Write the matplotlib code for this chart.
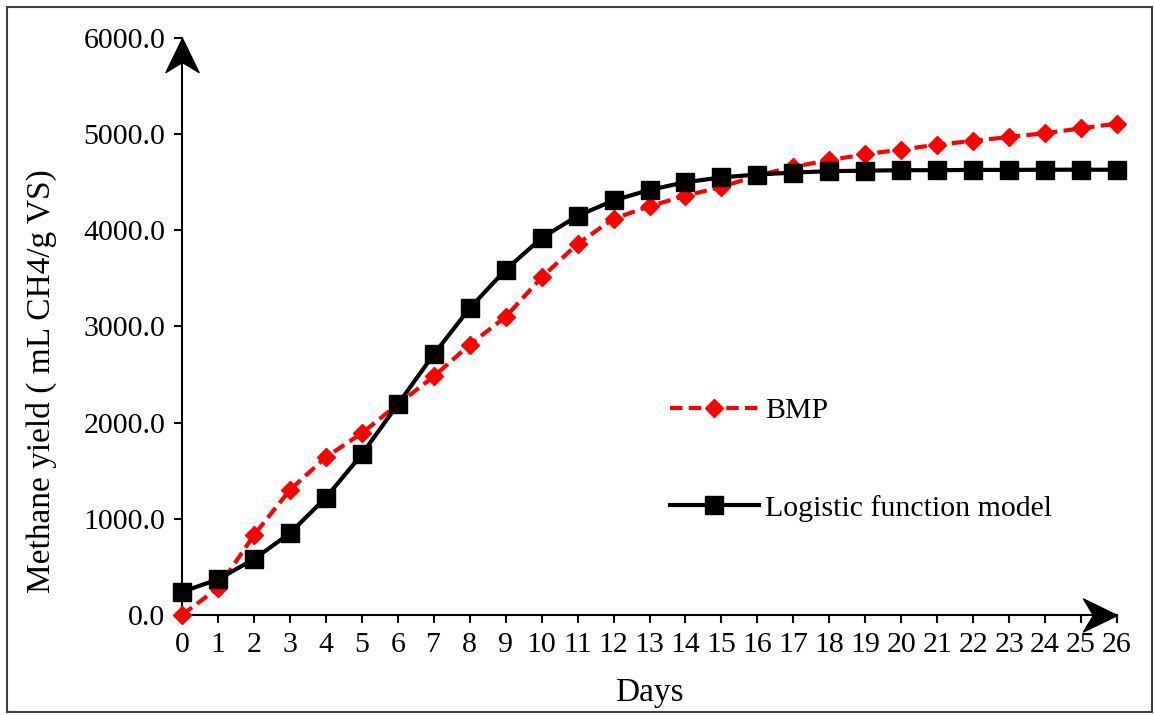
import matplotlib.pyplot as plt
from matplotlib.path import Path
from matplotlib.patches import Rectangle

# Data
days = list(range(27))
bmp = [0, 280, 830, 1300, 1640, 1890, 2190, 2480, 2810, 3100, 3510, 3860, 4120,
       4250, 4360, 4450, 4570, 4660, 4730, 4790, 4840, 4890, 4930, 4970, 5010,
       5060, 5110]
logistic = [240, 370, 580, 850, 1220, 1670, 2190, 2710, 3190, 3590, 3920, 4150,
            4310, 4420, 4500, 4550, 4580, 4600, 4615, 4620, 4625, 4625, 4628,
            4628, 4630, 4630, 4630]
yticks = [0, 1000, 2000, 3000, 4000, 5000, 6000]

plt.rcParams['font.family'] = ['Liberation Serif', 'DejaVu Serif']
fs = 21.5

fig = plt.figure(figsize=(11.54, 7.15), dpi=100)
ax = fig.add_axes([0.1577, 0.1399, 0.968 - 0.1577, 0.9469 - 0.1399])

ax.plot(days, bmp, color='red', lw=3, ls=(0, (3, 1.5)), marker='D', ms=9,
        label='BMP', clip_on=False, zorder=3)
ax.plot(days, logistic, color='black', lw=3, marker='s', ms=13,
        label='Logistic function model', clip_on=False, zorder=4)

ax.set_xlim(0, 26)
ax.set_ylim(0, 6000)
ax.set_xticks(days)
ax.set_yticks(yticks)
ax.set_yticklabels([f'{v:.1f}' for v in yticks])
ax.tick_params(direction='out', length=6, width=1.5, labelsize=fs, pad=6)

for s in ['top', 'right']:
    ax.spines[s].set_visible(False)
for s in ['left', 'bottom']:
    ax.spines[s].set_linewidth(1.5)

# arrow heads on the axes
up = Path([(0, 0), (-16.5, -34), (0, -24), (16.5, -34), (0, 0)],
          [Path.MOVETO, Path.LINETO, Path.LINETO, Path.LINETO, Path.CLOSEPOLY])
right = Path([(0, 0), (-34, 16.5), (-24, 0), (-34, -16.5), (0, 0)],
             [Path.MOVETO, Path.LINETO, Path.LINETO, Path.LINETO, Path.CLOSEPOLY])
ax.plot([0], [1], marker=up, ms=49, color='black', transform=ax.transAxes,
        clip_on=False, zorder=5)
ax.plot([1], [0], marker=right, ms=49, color='black', transform=ax.transAxes,
        clip_on=False, zorder=5)

ax.set_xlabel('Days', fontsize=24, labelpad=14)
ax.set_ylabel('Methane yield ( mL CH4/g VS)', fontsize=24)
ax.yaxis.set_label_coords(-0.134, 0.405)

ax.legend(loc='upper left', bbox_to_anchor=(670 / 1154, 0.444),
          bbox_transform=fig.transFigure, frameon=False, fontsize=fs,
          handlelength=2.98, handletextpad=0.2, labelspacing=2.35,
          borderpad=0, borderaxespad=0)

fig.patches.append(Rectangle((7 / 1154, 3 / 715), 1145 / 1154, 705 / 715,
                             transform=fig.transFigure, fill=False,
                             edgecolor='#404040', lw=1.5))

fig.savefig('out.png', dpi=100)
